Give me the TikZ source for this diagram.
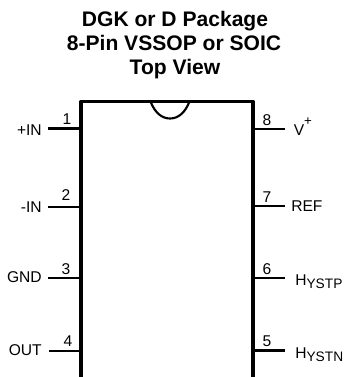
\documentclass[tikz,border=0pt]{standalone}
\usepackage{fontspec}
\setmainfont{Liberation Sans}
\usepackage{tikz}
\usetikzlibrary{positioning}

\begin{document}
\begin{tikzpicture}[x=0.75pt,y=-0.75pt,
		title/.style = {font=\fontsize{15.8}{18}\selectfont\bfseries, anchor=base, inner sep=0pt},
		signal/.style = {font=\fontsize{11.7}{13}\selectfont, inner sep=0pt},
		num/.style = {font=\fontsize{11.7}{13}\selectfont, inner sep=0pt},
		pin/.style = {-, line width=1.6pt, draw=black},
		body/.style = {line width=2.5pt, draw=black, line join=round}]
	\useasboundingbox (0,0) rectangle (343,377);

	\node[title] (t1) at (175,26.5) {DGK or D Package};
	\node[title] (t2) at (174,50.5) {8-Pin VSSOP or SOIC};
	\node[title] (t3) at (175,75) {Top View};

	\coordinate (bl) at (81,377);
	\coordinate (tl) at (81,101.5);
	\coordinate (tr) at (253,101.5);
	\coordinate (br) at (253,377);
	\coordinate (n1) at (150.5,101.5);
	\coordinate (n2) at (189.5,101.5);

	\draw[body] (bl) to (tl) to (tr) to (br);
	\draw[line width=1.6pt] (n1) .. controls (155,113) and (162,118.5) .. (170,118.5) .. controls (178,118.5) and (185,113) .. (n2);

	\coordinate (a1) at (48,128.5);
	\coordinate (a2) at (48,207);
	\coordinate (a3) at (48,278);
	\coordinate (a4) at (49,351);
	\coordinate (b1) at (81,128.5);
	\coordinate (b2) at (81,207);
	\coordinate (b3) at (81,278);
	\coordinate (b4) at (81,351);
	\coordinate (c8) at (253,129);
	\coordinate (c7) at (253,206);
	\coordinate (c6) at (253,278);
	\coordinate (c5) at (253,350.5);
	\coordinate (d8) at (285,129);
	\coordinate (d7) at (285,206);
	\coordinate (d6) at (285,278);
	\coordinate (d5) at (285,350.5);

	\draw[pin] (a1) to (b1);
	\draw[pin] (a2) to (b2);
	\draw[pin] (a3) to (b3);
	\draw[pin] (a4) to (b4);
	\draw[pin] (c8) to (d8);
	\draw[pin] (c7) to (d7);
	\draw[pin] (c6) to (d6);
	\draw[pin] (c5) to (d5);

	\node[num] (p1) at (67,119) {1};
	\node[num] (p2) at (66,195) {2};
	\node[num] (p3) at (66,269) {3};
	\node[num] (p4) at (68,341) {4};
	\node[num] (p8) at (267,120) {8};
	\node[num] (p7) at (267,197) {7};
	\node[num] (p6) at (267,269) {6};
	\node[num] (p5) at (267,341) {5};

	\node[signal, anchor=east] (in1) at (42,130) {+IN};
	\node[signal, anchor=east] (in2) at (42,207) {-IN};
	\node[signal, anchor=east] (gnd) at (42,277.5) {GND};
	\node[signal, anchor=east] (out) at (42,350.5) {OUT};
	\node[signal, anchor=base west] (vp) at (293.5,136) {V\raisebox{7.5pt}{\fontsize{10}{11}\selectfont +}};
	\node[signal, anchor=west] (ref) at (291,206) {REF};
	\node[signal, anchor=base west] (hp) at (295,285) {H\raisebox{-2.25pt}{\fontsize{10.3}{11}\selectfont YSTP}};
	\node[signal, anchor=base west] (hn) at (295,358) {H\raisebox{-2.25pt}{\fontsize{10.3}{11}\selectfont YSTN}};
\end{tikzpicture}
\end{document}
